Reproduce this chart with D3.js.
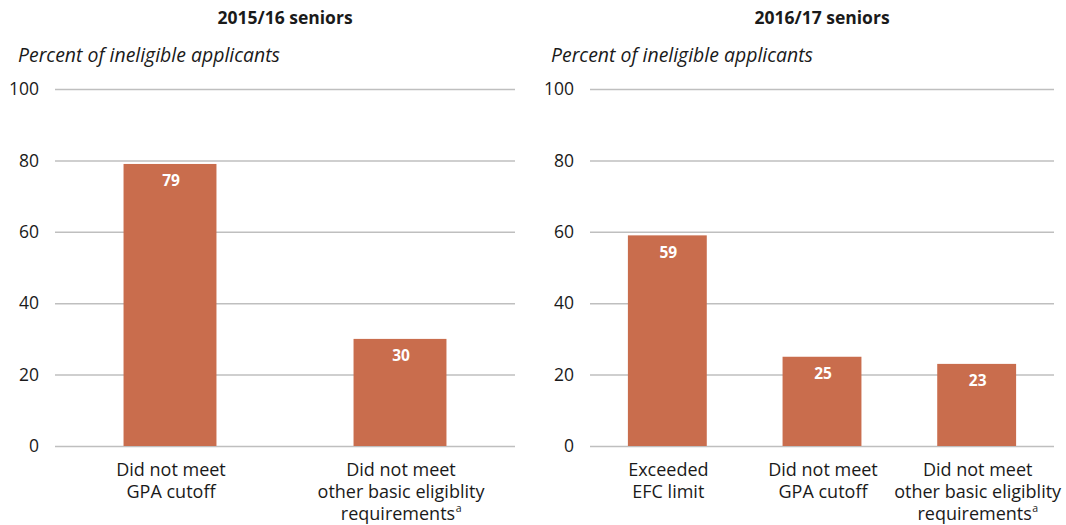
<!DOCTYPE html>
<html><head><meta charset="utf-8">
<script src="https://cdn.jsdelivr.net/npm/d3@7"></script>
<style>body{margin:0;background:#fff;} text{font-family:"Open Sans",sans-serif;fill:#1a1a1a;}</style>
</head><body>
<svg id="c" width="1066" height="525"></svg>
<script>
const yTicks = [0, 20, 40, 60, 80, 100];
const panelTitles = ["2015/16 seniors", "2016/17 seniors"];
const yLabel = "Percent of ineligible applicants";
const cats1 = [["Did not meet", "GPA cutoff"], ["Did not meet", "other basic eligiblity", "requirements"]];
const vals1 = [79, 30];
const cats2 = [["Exceeded", "EFC limit"], ["Did not meet", "GPA cutoff"], ["Did not meet", "other basic eligiblity", "requirements"]];
const vals2 = [59, 25, 23];
const supers2 = [false, false, true];
const supers1 = [false, true];

const svg = d3.select("#c");
const y = d3.scaleLinear().domain([0, 100]).range([446, 89]);
const barColor = "#C96D4D";

function panel(x0, x1, subX, title, cats, vals, sup, barFrac) {
  const g = svg.append("g");
  const x = d3.scaleBand().domain(cats.map((d, i) => i)).range([x0, x1]).padding(0);
  g.append("text").attr("x", (x0 + x1) / 2).attr("y", 24).attr("text-anchor", "middle")
    .attr("font-weight", "bold").attr("font-size", 17.5).text(title);
  g.append("text").attr("x", subX).attr("y", 62).attr("font-style", "italic")
    .attr("font-size", 19.3).attr("textLength", 262).attr("lengthAdjust", "spacingAndGlyphs").text(yLabel);
  const ax = d3.axisLeft(y).tickValues(yTicks).tickSize(-(x1 - x0)).tickPadding(16);
  const ag = g.append("g").attr("transform", `translate(${x0},0)`).call(ax);
  ag.select(".domain").remove();
  ag.selectAll(".tick line").attr("stroke", "#BFBFBF").attr("stroke-width", 1.5);
  ag.selectAll(".tick text").attr("font-size", 17.5).attr("fill", "#1a1a1a").attr("font-family", "Open Sans, sans-serif");
  const bw = x.bandwidth() * barFrac;
  g.selectAll("rect.bar").data(vals).enter().append("rect")
    .attr("x", (d, i) => x(i) + (x.bandwidth() - bw) / 2)
    .attr("y", d => y(d)).attr("width", bw).attr("height", d => y(0) - y(d))
    .attr("fill", barColor);
  g.selectAll("text.val").data(vals).enter().append("text")
    .attr("x", (d, i) => x(i) + x.bandwidth() / 2 + 1).attr("y", d => y(d) + 22.5)
    .attr("text-anchor", "middle").attr("font-weight", "bold").attr("font-size", 15.5)
    .style("fill", "#fff").text(d => d);
  cats.forEach((lines, i) => {
    const cx = x(i) + x.bandwidth() / 2 + 1;
    lines.forEach((ln, j) => {
      const t = g.append("text").attr("text-anchor", "middle").attr("font-size", 18)
        .attr("x", cx).attr("y", 476 + j * 22).text(ln);
      if (sup[i] && j === lines.length - 1) {
        const w = t.node().getComputedTextLength();
        t.attr("x", cx - 3);
        g.append("text").attr("x", cx - 3 + w / 2 + 0.5).attr("y", 476 + j * 22 - 8)
          .attr("font-size", 10.5).text("a");
      }
    });
  });
}
panel(55, 515, 18, panelTitles[0], cats1, vals1, supers1, 0.404);
panel(590, 1054, 551, panelTitles[1], cats2, vals2, supers2, 0.51);
</script>
</body></html>
